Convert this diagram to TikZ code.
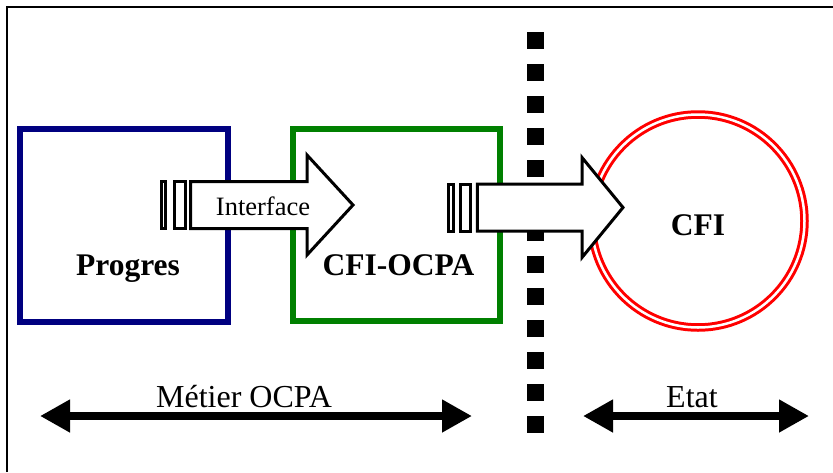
\documentclass[tikz,border=0pt]{standalone}
\usepackage{fontspec}
\setmainfont{Liberation Serif}
\usetikzlibrary{arrows.meta}
\definecolor{progresblue}{RGB}{0,0,128}
\definecolor{ocpagreen}{RGB}{0,128,0}
\begin{document}
\begin{tikzpicture}[x = 1pt, y = -1pt,
    box/.style = {draw, line width = 5.5pt, inner sep = 0pt},
    plug/.style = {draw, fill = white, line width = 3pt, inner sep = 0pt, minimum height = 47pt},
    bigarrow/.style = {draw, fill = white, line width = 3pt, line join = miter},
    boxlabel/.style = {font = \fontsize{31.5}{31.5}\selectfont\bfseries, anchor = base},
    zonelabel/.style = {font = \fontsize{32}{32}\selectfont, anchor = base},
    span/.style = {line width = 7.5pt, >={Triangle[length = 30pt, width = 31pt]}, <->}]

   \useasboundingbox (0,0) rectangle (833,472);
   \draw [line width = 2.2pt] (7,472) -- (7,7) -- (833,7);

   \node [box, draw = progresblue, minimum width = 208pt, minimum height = 193pt] (progres) at (124,225.5) {};
   \node [box, draw = ocpagreen, minimum width = 207pt, minimum height = 192pt] (ocpa) at (396.5,225) {};
   \node [circle, draw = red, double = white, double distance = 2.5pt, line width = 3pt,
          minimum size = 213pt, inner sep = 0pt] (cfi) at (698,221) {};

   \foreach \k in {0,...,12}
   \fill (527,32+32*\k) rectangle +(17,17);

   \foreach \x/\y/\e/\t in {190.5/205/307/353, 477.3/207.5/582/623}
   \draw [bigarrow] (\x,\y-23.5) -- (\e,\y-23.5) -- (\e,\y-50) -- (\t,\y)
         -- (\e,\y+50) -- (\e,\y+23.5) -- (\x,\y+23.5) -- cycle;

   \node [plug, minimum width = 4.2pt] (plugA) at (163.4,205) {};
   \node [plug, minimum width = 11.4pt] (plugB) at (180,205) {};
   \node [plug, minimum width = 5.4pt] (plugC) at (451,207.5) {};
   \node [plug, minimum width = 10.4pt] (plugD) at (465.5,207.5) {};

   \node [font = \fontsize{26.5}{26.5}\selectfont, anchor = base] (interface) at (263,215) {Interface};
   \node [boxlabel] (progreslabel) at (128,275.5) {Progres};
   \node [boxlabel] (ocpalabel) at (398.5,275) {CFI-OCPA};
   \node [boxlabel] (cfilabel) at (698,235) {CFI};

   \coordinate (metierL) at (40,416);
   \coordinate (metierR) at (472,416);
   \coordinate (etatL) at (583,416);
   \coordinate (etatR) at (809,416);
   \draw [span] (metierL) -- (metierR);
   \draw [span] (etatL) -- (etatR);
   \node [zonelabel] (metier) at (244,407) {Métier OCPA};
   \node [zonelabel] (etat) at (692,407) {Etat};

\end{tikzpicture}
\end{document}
